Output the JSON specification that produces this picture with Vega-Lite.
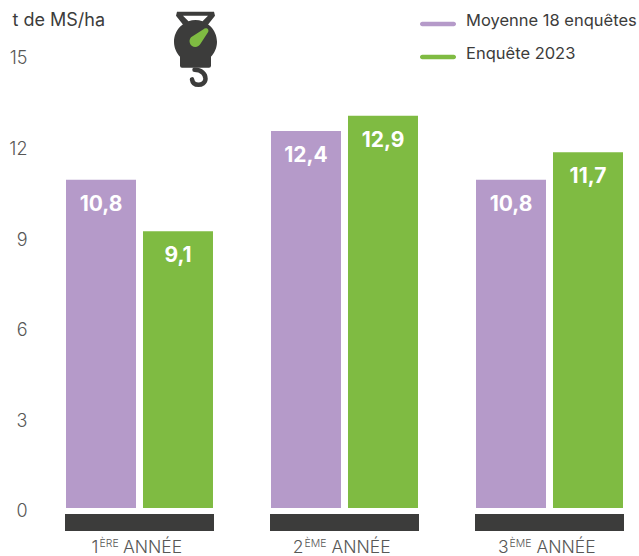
{
  "$schema": "https://vega.github.io/schema/vega-lite/v6.json",
  "width": 639,
  "height": 556,
  "padding": 0,
  "autosize": "none",
  "background": "white",
  "config": {
    "view": {"stroke": null},
    "font": "Inter",
    "locale": {"number": {"decimal": ",", "thousands": " ", "grouping": [3], "currency": ["", " €"]}}
  },
  "datasets": {
    "rendements": [
      {"annee": "1", "serie": "Moyenne 18 enquêtes", "valeur": 10.8},
      {"annee": "1", "serie": "Enquête 2023", "valeur": 9.1},
      {"annee": "2", "serie": "Moyenne 18 enquêtes", "valeur": 12.4},
      {"annee": "2", "serie": "Enquête 2023", "valeur": 12.9},
      {"annee": "3", "serie": "Moyenne 18 enquêtes", "valeur": 10.8},
      {"annee": "3", "serie": "Enquête 2023", "valeur": 11.7}
    ],
    "annees": [
      {"annee": "1", "suffixe": "ÈRE", "mot": "ANNÉE"},
      {"annee": "2", "suffixe": "ÈME", "mot": "ANNÉE"},
      {"annee": "3", "suffixe": "ÈME", "mot": "ANNÉE"}
    ],
    "icone": [{"annee": "1"}]
  },
  "encoding": {
    "x": {
      "field": "annee",
      "type": "nominal",
      "axis": null,
      "scale": {"domain": ["1", "2", "3"], "range": [37, 652], "paddingInner": 0.2732, "paddingOuter": 0.1366}
    }
  },
  "layer": [
    {
      "data": {"name": "annees"},
      "mark": {"type": "bar", "color": "#3C3C3B"},
      "encoding": {
        "y": {"datum": -0.2, "type": "quantitative"},
        "y2": {"datum": -0.76}
      }
    },
    {
      "data": {"name": "rendements"},
      "mark": {"type": "bar"},
      "encoding": {
        "xOffset": {
          "field": "serie",
          "type": "nominal",
          "scale": {"domain": ["Moyenne 18 enquêtes", "Enquête 2023"], "paddingInner": 0.0909, "paddingOuter": 0.013}
        },
        "y": {
          "field": "valeur",
          "type": "quantitative",
          "scale": {"domain": [-1.579, 16.71], "nice": false, "zero": false},
          "axis": {
            "values": [0, 3, 6, 9, 12, 15],
            "grid": false,
            "domain": false,
            "ticks": false,
            "labelPadding": -27,
            "labelFontSize": 18,
            "labelColor": "#575756",
            "labelFontWeight": 300,
            "labelBound": false,
            "labelOffset": {"expr": "4 + datum.value / 5"},
            "title": "t de MS/ha",
            "titleAngle": 0,
            "titleX": 12,
            "titleY": 29,
            "titleAlign": "left",
            "titleFontSize": 18,
            "titleFontWeight": 400,
            "titleColor": "#3C3C3B"
          }
        },
        "color": {
          "field": "serie",
          "type": "nominal",
          "scale": {"domain": ["Moyenne 18 enquêtes", "Enquête 2023"], "range": ["#B59AC9", "#7FBB42"]},
          "legend": {
            "title": null,
            "orient": "none",
            "legendX": 420,
            "legendY": 9,
            "symbolType": "M-0.875,-0.125H0.875A0.125,0.125 0 0 1 0.875,0.125H-0.875A0.125,0.125 0 0 1 -0.875,-0.125Z",
            "symbolSize": 1296,
            "symbolStrokeWidth": 0,
            "clipHeight": 30,
            "rowPadding": 3,
            "labelOffset": 10,
            "labelFontSize": 16.5,
            "labelColor": "#3C3C3B",
            "labelLimit": 220,
            "encode": {"labels": {"update": {"dy": {"value": -3}}}}
          }
        }
      }
    },
    {
      "data": {"name": "rendements"},
      "mark": {"type": "text", "color": "white", "fontWeight": 700, "fontSize": 21, "dy": 25},
      "encoding": {
        "xOffset": {"field": "serie", "type": "nominal"},
        "y": {"field": "valeur", "type": "quantitative"},
        "text": {"field": "valeur", "type": "quantitative", "format": ".1f"}
      }
    },
    {
      "data": {"name": "annees"},
      "mark": {"type": "text", "align": "right", "fontSize": 17.5, "fontWeight": 300, "color": "#575756", "dx": -41},
      "encoding": {
        "y": {"datum": -1.3, "type": "quantitative"},
        "text": {"field": "annee"}
      }
    },
    {
      "data": {"name": "annees"},
      "mark": {"type": "text", "align": "left", "fontSize": 10.5, "fontWeight": 300, "color": "#575756", "dx": -40, "dy": -4},
      "encoding": {
        "y": {"datum": -1.3, "type": "quantitative"},
        "text": {"field": "suffixe"}
      }
    },
    {
      "data": {"name": "annees"},
      "transform": [{"filter": "datum.suffixe === 'ÈRE'"}],
      "mark": {"type": "text", "align": "left", "fontSize": 17.5, "fontWeight": 300, "color": "#575756", "dx": -16.5},
      "encoding": {
        "y": {"datum": -1.3, "type": "quantitative"},
        "text": {"field": "mot"}
      }
    },
    {
      "data": {"name": "annees"},
      "transform": [{"filter": "datum.suffixe === 'ÈME'"}],
      "mark": {"type": "text", "align": "left", "fontSize": 17.5, "fontWeight": 300, "color": "#575756", "dx": -13},
      "encoding": {
        "y": {"datum": -1.3, "type": "quantitative"},
        "text": {"field": "mot"}
      }
    },
    {
      "data": {"name": "icone"},
      "mark": {
        "type": "point",
        "filled": true,
        "size": 4,
        "color": "#3C3C3B",
        "opacity": 1,
        "xOffset": 56,
        "shape": "M-18.5,-38H18.5L19.5,-34L10,-22H-10L-19.5,-34ZM-12.5,-34L-7,-28.5Q0,-31 7,-28.5L12.5,-34ZM-21.5,-8A21.5,21.5 0 1 1 21.5,-8A21.5,21.5 0 1 1 -21.5,-8ZM-15.5,6H15.5V16Q15.5,18 13.5,18H-13.5Q-15.5,18 -15.5,16Z"
      },
      "encoding": {"y": {"datum": 15.07, "type": "quantitative"}}
    },
    {
      "data": {"name": "icone"},
      "mark": {
        "type": "point",
        "filled": false,
        "size": 4,
        "color": "#3C3C3B",
        "opacity": 1,
        "strokeWidth": 4.5,
        "strokeCap": "round",
        "xOffset": 56,
        "shape": "M-1,20C6,20 10,24 10,29C10,33 6,35 3,35C-1,35 -3,33 -3.5,29.5"
      },
      "encoding": {"y": {"datum": 15.07, "type": "quantitative"}}
    },
    {
      "data": {"name": "icone"},
      "mark": {
        "type": "point",
        "filled": true,
        "size": 4,
        "color": "#7FBB42",
        "opacity": 1,
        "xOffset": 56,
        "shape": "M-4.5,-12.5L8,-20.5A2.6,2.6 0 0 1 12.5,-17.5L5,-6A5.8,5.8 0 1 1 -4.5,-12.5Z"
      },
      "encoding": {"y": {"datum": 15.07, "type": "quantitative"}}
    }
  ]
}
